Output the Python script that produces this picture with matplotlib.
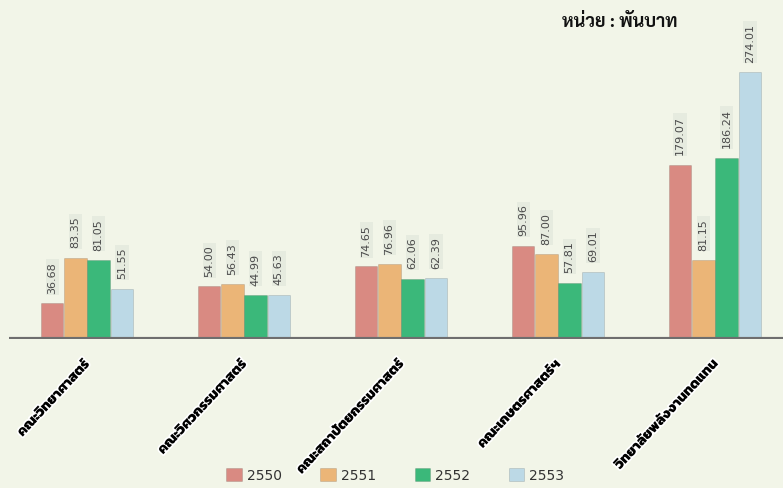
import matplotlib
matplotlib.use('Agg')
import matplotlib.pyplot as plt
import matplotlib.patheffects as pe
import matplotlib.transforms as mtransforms
import numpy as np

# data (thousand baht)
faculties = ['คณะวิทยาศาสตร์', 'คณะวิศวกรรมศาสตร์', 'คณะสถาปัตยกรรมศาสตร์',
             'คณะเกษตรศาสตร์ฯ', 'วิทยาลัยพลังงานทดแทน']
years = ['2550', '2551', '2552', '2553']
v2550 = [36.68, 54.00, 74.65, 95.96, 179.07]
v2551 = [83.35, 56.43, 76.96, 87.00, 81.15]
v2552 = [81.05, 44.99, 62.06, 57.81, 186.24]
v2553 = [51.55, 45.63, 62.39, 69.01, 274.01]
colors = ['#d98a82', '#ebb577', '#3bb87a', '#bcd9e6']

label_font = ['Kanit', 'Noto Sans Thai', 'DejaVu Sans']
title_font = ['Sarabun', 'Noto Sans Thai', 'DejaVu Sans']
bg = '#f2f5e8'

fig = plt.figure(figsize=(7.83, 4.89), dpi=100, facecolor=bg)
ax = fig.add_axes([9 / 783, 149 / 489, 774 / 783, 340 / 489])
ax.set_facecolor(bg)

x = np.arange(len(faculties))
w = 0.148
series = [v2550, v2551, v2552, v2553]
handles = []
for k, vals in enumerate(series):
    pos = x + (k - 1.5) * w
    b = ax.bar(pos, vals, width=w * 0.96, color=colors[k], edgecolor='#00000022',
               linewidth=0.6, label=years[k], zorder=2)
    handles.append(b)
    for px, v in zip(pos, vals):
        ax.annotate('%.2f' % v, (px, v), xytext=(0, 7.5), textcoords='offset points',
                    rotation=90, ha='center', va='bottom', fontsize=8, color='#4a4a4a',
                    bbox=dict(boxstyle='square,pad=0.15', fc='#e6ebdf', ec='none'))

ax.set_xlim(-0.497, 4.433)
ax.set_ylim(0, 349)
ax.axhline(0, color='#6e6e6e', lw=3, zorder=3)
for s in ax.spines.values():
    s.set_visible(False)
ax.set_xticks([])
ax.set_yticks([])

# rotated category labels
trans = ax.get_xaxis_transform() + mtransforms.ScaledTranslation(0, -17 / 72, fig.dpi_scale_trans)
for i, name in enumerate(faculties):
    ax.text(i, 0, name, transform=trans, rotation=47, rotation_mode='anchor',
            ha='right', va='center', fontsize=10, fontweight='heavy', family=label_font,
            color='black', path_effects=[pe.withStroke(linewidth=2.5, foreground='white')])

fig.text(0.792, 0.955, 'หน่วย : พันบาท', ha='center', va='center', fontsize=13,
         fontweight='bold', family=title_font, color='#111111')

fig.legend(handles=handles, labels=years, loc='center', bbox_to_anchor=(0.505, 0.026),
           ncol=4, frameon=False, fontsize=10, handlelength=1.1, handleheight=1.0,
           columnspacing=2.75, handletextpad=0.4, labelcolor='#333333')

fig.savefig('out.png', facecolor=bg)
